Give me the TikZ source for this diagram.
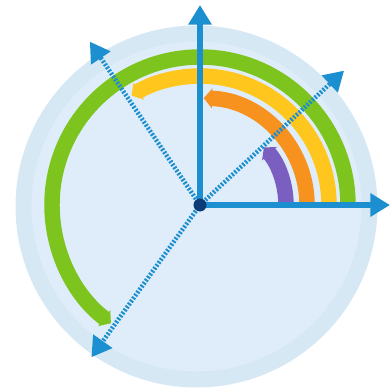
\documentclass[tikz,border=0pt]{standalone}
\usepackage{tikz}
\usetikzlibrary{arrows.meta,positioning,calc}
\definecolor{axblue}{RGB}{28,143,208}
\definecolor{dotnavy}{RGB}{12,60,120}
\definecolor{discout}{RGB}{215,232,245}
\definecolor{discin}{RGB}{222,237,249}
\definecolor{bgreen}{RGB}{126,196,30}
\definecolor{byellow}{RGB}{255,198,30}
\definecolor{borange}{RGB}{247,146,30}
\definecolor{bpurple}{RGB}{122,94,192}

\begin{document}
\begin{tikzpicture}[
    x=0.025cm, y=0.025cm,
    axis/.style={axblue, line width=3.8pt, -{Triangle[length=14pt, width=16pt]}},
    ray/.style={axblue, line width=3.2pt, dash pattern=on 1.4pt off 1.2pt,
        -{Triangle[length=14pt, width=16pt]}},
    band/.style={line width=11pt, -{Triangle[length=6pt, width=14pt]}},
]
\useasboundingbox (-200,-185) rectangle (190,205);

% === Disc ===
\coordinate (O) at (0,0);
\fill[discout] (-3.5,-1.5) circle[radius=181];
\fill[discin] (-3.5,-1.5) circle[radius=165];

% === Angle arcs ===
\draw[band, bgreen] ([shift={(0:148)}]O) arc[start angle=0, end angle=233, radius=148];
\draw[band, byellow] ([shift={(0:129)}]O) arc[start angle=0, end angle=122, radius=129];
\draw[band, borange] ([shift={(0:107)}]O) arc[start angle=0, end angle=88, radius=107];
\draw[band, bpurple] ([shift={(0:86)}]O) arc[start angle=0, end angle=42, radius=86];

% === Rays ===
\coordinate (ur) at (43:197);
\coordinate (ul) at (124:197);
\coordinate (ll) at (234.5:187);
\draw[ray] (O) -- (ur);
\draw[ray] (O) -- (ul);
\draw[ray] (O) -- (ll);

% === Axes ===
\coordinate (xend) at (190,0);
\coordinate (yend) at (0,200);
\draw[axis] (O) -- (xend);
\draw[axis] (O) -- (yend);
\fill[dotnavy] (O) circle[radius=6.5];

\end{tikzpicture}
\end{document}
